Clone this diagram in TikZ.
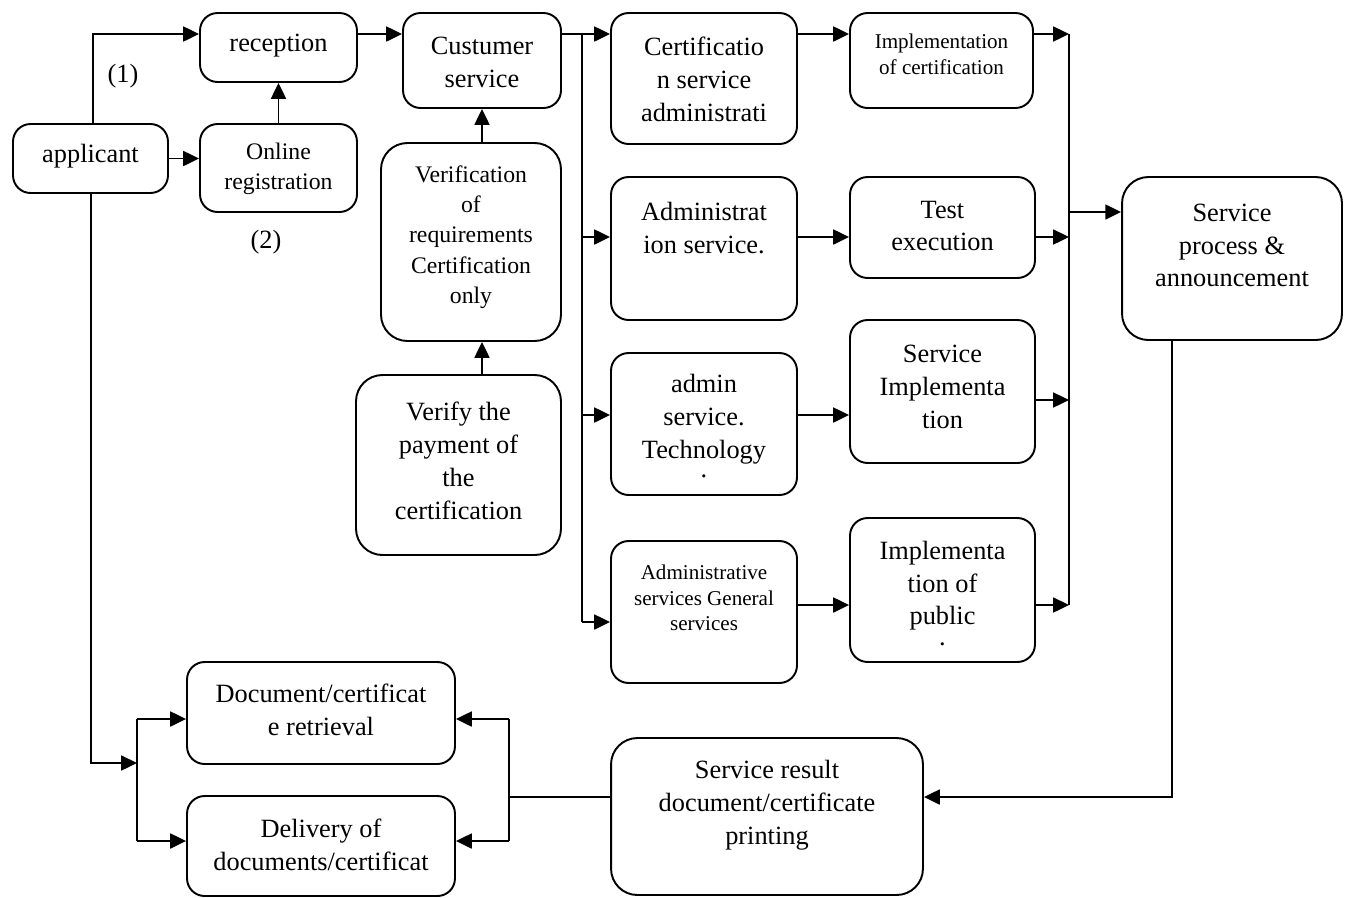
\documentclass[tikz,border=0pt]{standalone}
\usepackage{fontspec}
\setmainfont{Liberation Serif}
\usetikzlibrary{arrows.meta}
\tikzset{
  box/.style={draw, rounded corners=10pt, line width=1.1pt, inner sep=0pt},
  bigbox/.style={box, rounded corners=15pt},
  arr/.style={line width=1.1pt, -{Triangle[length=9pt,width=8.5pt]}},
  ln/.style={line width=1.1pt},
  txt/.style={align=center, inner sep=0pt, font=\fontsize{15}{18.7}\selectfont},
  stxt/.style={align=center, inner sep=0pt, font=\fontsize{13.5}{17.2}\selectfont},
  ttxt/.style={align=center, inner sep=0pt, font=\fontsize{12}{14.6}\selectfont}
}
\begin{document}
\begin{tikzpicture}[x=0.02cm, y=-0.02cm]
   \useasboundingbox (0,0) rectangle (1349,897);

   \node[box, minimum width=3.10cm, minimum height=1.38cm] (applicant) at (90.5,158.5) {};
   \node[box, minimum width=3.14cm, minimum height=1.38cm] (reception) at (278.5,47.5) {};
   \node[box, minimum width=3.14cm, minimum height=1.76cm] (online) at (278.5,168) {};
   \node[box, minimum width=3.16cm, minimum height=1.90cm] (custumer) at (482,60.5) {};
   \node[bigbox, minimum width=3.60cm, minimum height=3.96cm] (verif) at (471,242) {};
   \node[bigbox, minimum width=4.10cm, minimum height=3.60cm] (payment) at (458.5,465) {};

   \node[box, minimum width=3.72cm, minimum height=2.62cm] (certadmin) at (704,78.5) {};
   \node[box, minimum width=3.66cm, minimum height=1.90cm] (implcert) at (941.5,60.5) {};
   \node[box, minimum width=3.72cm, minimum height=2.86cm] (adminsrv) at (704,248.5) {};
   \node[box, minimum width=3.70cm, minimum height=2.02cm] (testexec) at (942.5,227.5) {};
   \node[box, minimum width=3.72cm, minimum height=2.84cm] (admintech) at (704,424) {};
   \node[box, minimum width=3.70cm, minimum height=2.86cm] (srvimpl) at (942.5,391.5) {};
   \node[box, minimum width=3.72cm, minimum height=2.84cm] (admingen) at (704,612) {};
   \node[box, minimum width=3.70cm, minimum height=2.88cm] (implpub) at (942.5,590) {};
   \node[bigbox, minimum width=4.40cm, minimum height=3.26cm] (srvproc) at (1232,258.5) {};

   \node[bigbox, minimum width=6.24cm, minimum height=3.14cm] (result) at (767,816.5) {};
   \node[box, minimum width=5.36cm, minimum height=2.04cm] (docret) at (321,713) {};
   \node[box, minimum width=5.36cm, minimum height=2.00cm] (delivery) at (321,846) {};

   \node[txt] (applicantT) at (90.5,156) {applicant};
   \node[txt] (receptionT) at (278.5,46) {reception};
   \node[txt] (one) at (123,76) {(1)};
   \node[txt] (two) at (266,242) {(2)};
   \node[stxt] (onlineT) at (278.5,169) {Online\\registration};
   \node[txt] (custumerT) at (482,62) {Custumer\\service};
   \node[stxt] (verifT) at (471,237) {Verification\\of\\requirements\\Certification\\only};
   \node[txt] (paymentT) at (458.5,461) {Verify the\\payment of\\the\\certification};

   \node[txt] (certadminT) at (704,79) {Certificatio\\n service\\administrati};
   \node[ttxt] (implcertT) at (941.5,54) {Implementation\\of certification};
   \node[txt] (adminsrvT) at (704,228) {Administrat\\ion service.};
   \node[txt] (testexecT) at (942.5,226) {Test\\execution};
   \node[txt, anchor=north] (admintechT) at (704,374) {admin\\service.\\Technology\\[-7.9pt].};
   \node[txt] (srvimplT) at (942.5,387) {Service\\Implementa\\tion};
   \node[ttxt] (admingenT) at (704,598) {Administrative\\services General\\services};
   \node[txt, anchor=north] (implpubT) at (942.5,540.5) {Implementa\\tion of\\public\\[-6.7pt].};
   \node[txt] (srvprocT) at (1232,245.5) {Service\\process \&\\announcement};

   \node[txt] (resultT) at (767,805) {Service result\\document/certificate\\printing};
   \node[txt] (docretT) at (321,709.5) {Document/certificat\\e retrieval};
   \node[txt] (deliveryT) at (321,844.5) {Delivery of\\documents/certificat};

   \coordinate (top) at (0,34);
   \coordinate (a1) at (93,34);
   \coordinate (lbus) at (582,34);
   \coordinate (rbus) at (1069,34);

   \draw[arr] (applicant.north -| a1) -- (a1) -- (reception.west |- a1);
   \draw[arr] (applicant.east) -- (online.west |- applicant.east);
   \draw[arr] (online.north) -- (reception.south);
   \draw[arr] (reception.east |- top) -- (custumer.west |- top);
   \draw[arr] (custumer.east |- top) -- (certadmin.west |- top);
   \draw[arr] (custumer.south |- verif.north) -- (custumer.south);
   \draw[arr] (custumer.south |- payment.north) -- (custumer.south |- verif.south);

   \draw[ln] (lbus) -- (lbus |- 0,622);
   \foreach \n/\y in {adminsrv/237, admintech/415, admingen/622}
   \draw[arr] (lbus |- 0,\y) -- (\n.west |- 0,\y);

   \foreach \a/\b/\y in {certadmin/implcert/34, adminsrv/testexec/237,
                         admintech/srvimpl/415, admingen/implpub/605}
   \draw[arr] (\a.east |- 0,\y) -- (\b.west |- 0,\y);

   \draw[ln] (rbus) -- (rbus |- 0,605);
   \foreach \a/\y in {implcert/34, testexec/237, srvimpl/400, implpub/605}
   \draw[arr] (\a.east |- 0,\y) -- (rbus |- 0,\y);
   \draw[arr] (rbus |- 0,212) -- (srvproc.west |- 0,212);

   \coordinate (c1) at (1172,797);
   \draw[arr] (srvproc.south -| c1) -- (c1) -- (result.east |- c1);

   \coordinate (c2) at (509,797);
   \draw[ln] (result.west |- c2) -- (c2);
   \draw[ln] (509,719) -- (509,841);
   \draw[arr] (509,719) -- (docret.east |- 0,719);
   \draw[arr] (509,841) -- (delivery.east |- 0,841);

   \coordinate (c3) at (91,763);
   \draw[arr] (applicant.south -| c3) -- (c3) -- (137,763);
   \draw[ln] (137,719) -- (137,841);
   \draw[arr] (137,719) -- (docret.west |- 0,719);
   \draw[arr] (137,841) -- (delivery.west |- 0,841);

\end{tikzpicture}
\end{document}
